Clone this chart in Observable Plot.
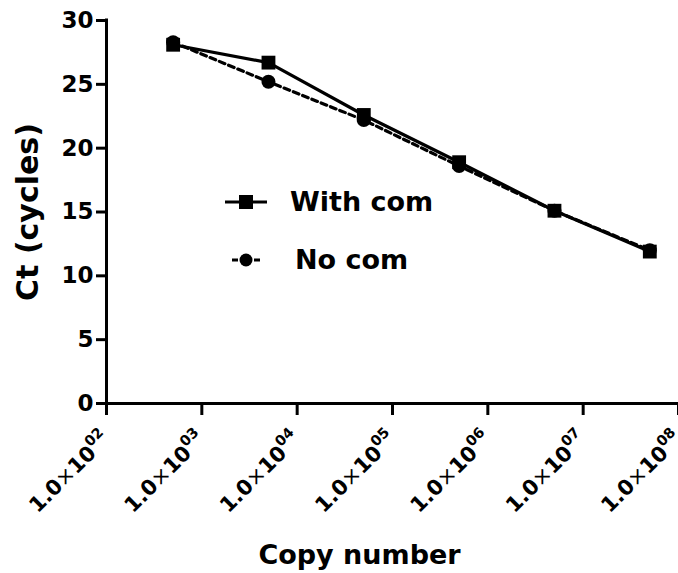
<!DOCTYPE html>
<html>
<head>
<meta charset="utf-8">
<script src="https://cdn.jsdelivr.net/npm/d3@7"></script>
<script src="https://cdn.jsdelivr.net/npm/@observablehq/plot@0.6"></script>
<style>
  html, body { margin: 0; padding: 0; background: #fff; }
  #chart { width: 678px; height: 573px; }
</style>
</head>
<body>
<div id="chart"></div>
<script>
// ---- data ----
const copies   = [5e2, 5e3, 5e4, 5e5, 5e6, 5e7];
const withCom  = [28.1, 26.7, 22.6, 18.9, 15.1, 11.9];
const noCom    = [28.3, 25.2, 22.2, 18.6, 15.1, 12.0];
const seriesNames = ["With com", "No com"];
const xTicks   = [1e2, 1e3, 1e4, 1e5, 1e6, 1e7, 1e8];
const xTickExp = ["02", "03", "04", "05", "06", "07", "08"];
const yTicks   = [0, 5, 10, 15, 20, 25, 30];
const xLabel   = "Copy number";
const yLabel   = "Ct (cycles)";

const rowsWith = copies.map((c, i) => ({x: c, y: withCom[i]}));
const rowsNo   = copies.map((c, i) => ({x: c, y: noCom[i]}));

const FONT = "DejaVu Sans";

const plot = Plot.plot({
  width: 678,
  height: 573,
  marginLeft: 106,
  marginRight: 0,
  marginTop: 20,
  marginBottom: 170,
  x: {type: "log", domain: [1e2, 1e8]},
  y: {domain: [0, 30]},
  style: {fontFamily: FONT, fontWeight: "bold", background: "#fff", overflow: "visible", color: "#000"},
  marks: [
    Plot.axisY({ticks: yTicks, tickSize: 10, tickPadding: 3, fontSize: 23, strokeWidth: 3, label: null, tickFormat: d => String(d)}),
    Plot.axisX({ticks: xTicks, tickSize: 12, tickPadding: 20, fontSize: 21, strokeWidth: 3, tickRotate: -45, label: null,
                tickFormat: d => "1.0|" + xTickExp[xTicks.indexOf(d)]}),
    Plot.ruleX([1e2], {stroke: "#000", strokeWidth: 3, strokeLinecap: "square"}),
    Plot.ruleY([0], {stroke: "#000", strokeWidth: 3}),
    Plot.line(rowsNo, {x: "x", y: "y", stroke: "#000", strokeWidth: 3.2, strokeDasharray: "6,4"}),
    Plot.line(rowsWith, {x: "x", y: "y", stroke: "#000", strokeWidth: 3.2}),
    Plot.dot(rowsWith, {x: "x", y: "y", symbol: "square", r: 7.8, fill: "#000", stroke: "none"}),
    Plot.dot(rowsNo, {x: "x", y: "y", symbol: "circle", r: 7, fill: "#000", stroke: "none"}),
    Plot.text([yLabel], {text: d => d, frameAnchor: "left", textAnchor: "middle", lineAnchor: "middle", rotate: -90, dx: -78, fontSize: 30, fontWeight: "bold", fill: "#000"}),
    Plot.text([xLabel], {text: d => d, frameAnchor: "bottom", textAnchor: "middle", lineAnchor: "middle", dx: -33, dy: 152, fontSize: 27, fontWeight: "bold", fill: "#000"})
  ]
});

document.getElementById("chart").appendChild(plot);

// superscript formatting of the x tick labels
d3.select(plot).selectAll('g[aria-label="x-axis tick label"] text').each(function() {
  const t = d3.select(this);
  const [mant, exp] = t.text().split("|");
  t.text(null);
  t.append("tspan").text(mant);
  t.append("tspan").attr("font-weight", "normal").text("\u00d7");
  t.append("tspan").text("10");
  t.append("tspan").attr("font-size", "0.68em").attr("dy", "-0.7em").text(exp);
});

// legend drawn inside the plot svg
const svg = d3.select(plot);
const lg = svg.append("g").attr("font-family", FONT).attr("font-weight", "bold").attr("text-anchor", "start");
const legendItems = [
  {name: seriesNames[0], y: 202, x0: 225, x1: 267, cx: 246, dash: null, sym: "square", tx: 290},
  {name: seriesNames[1], y: 260, x0: 232, x1: 260, cx: 246, dash: "6,5", sym: "circle", tx: 295}
];
legendItems.forEach(it => {
  lg.append("line").attr("x1", it.x0).attr("x2", it.x1).attr("y1", it.y).attr("y2", it.y)
    .attr("stroke", "#000").attr("stroke-width", 3).attr("stroke-dasharray", it.dash);
  if (it.sym === "square") {
    lg.append("rect").attr("x", it.cx - 7).attr("y", it.y - 7).attr("width", 14).attr("height", 14).attr("fill", "#000");
  } else {
    lg.append("circle").attr("cx", it.cx).attr("cy", it.y).attr("r", 6.5).attr("fill", "#000");
  }
  lg.append("text").attr("x", it.tx).attr("y", it.y).attr("dy", "0.35em").attr("font-size", 27).attr("fill", "#000").attr("text-anchor", "start").text(it.name);
});
</script>
</body>
</html>
